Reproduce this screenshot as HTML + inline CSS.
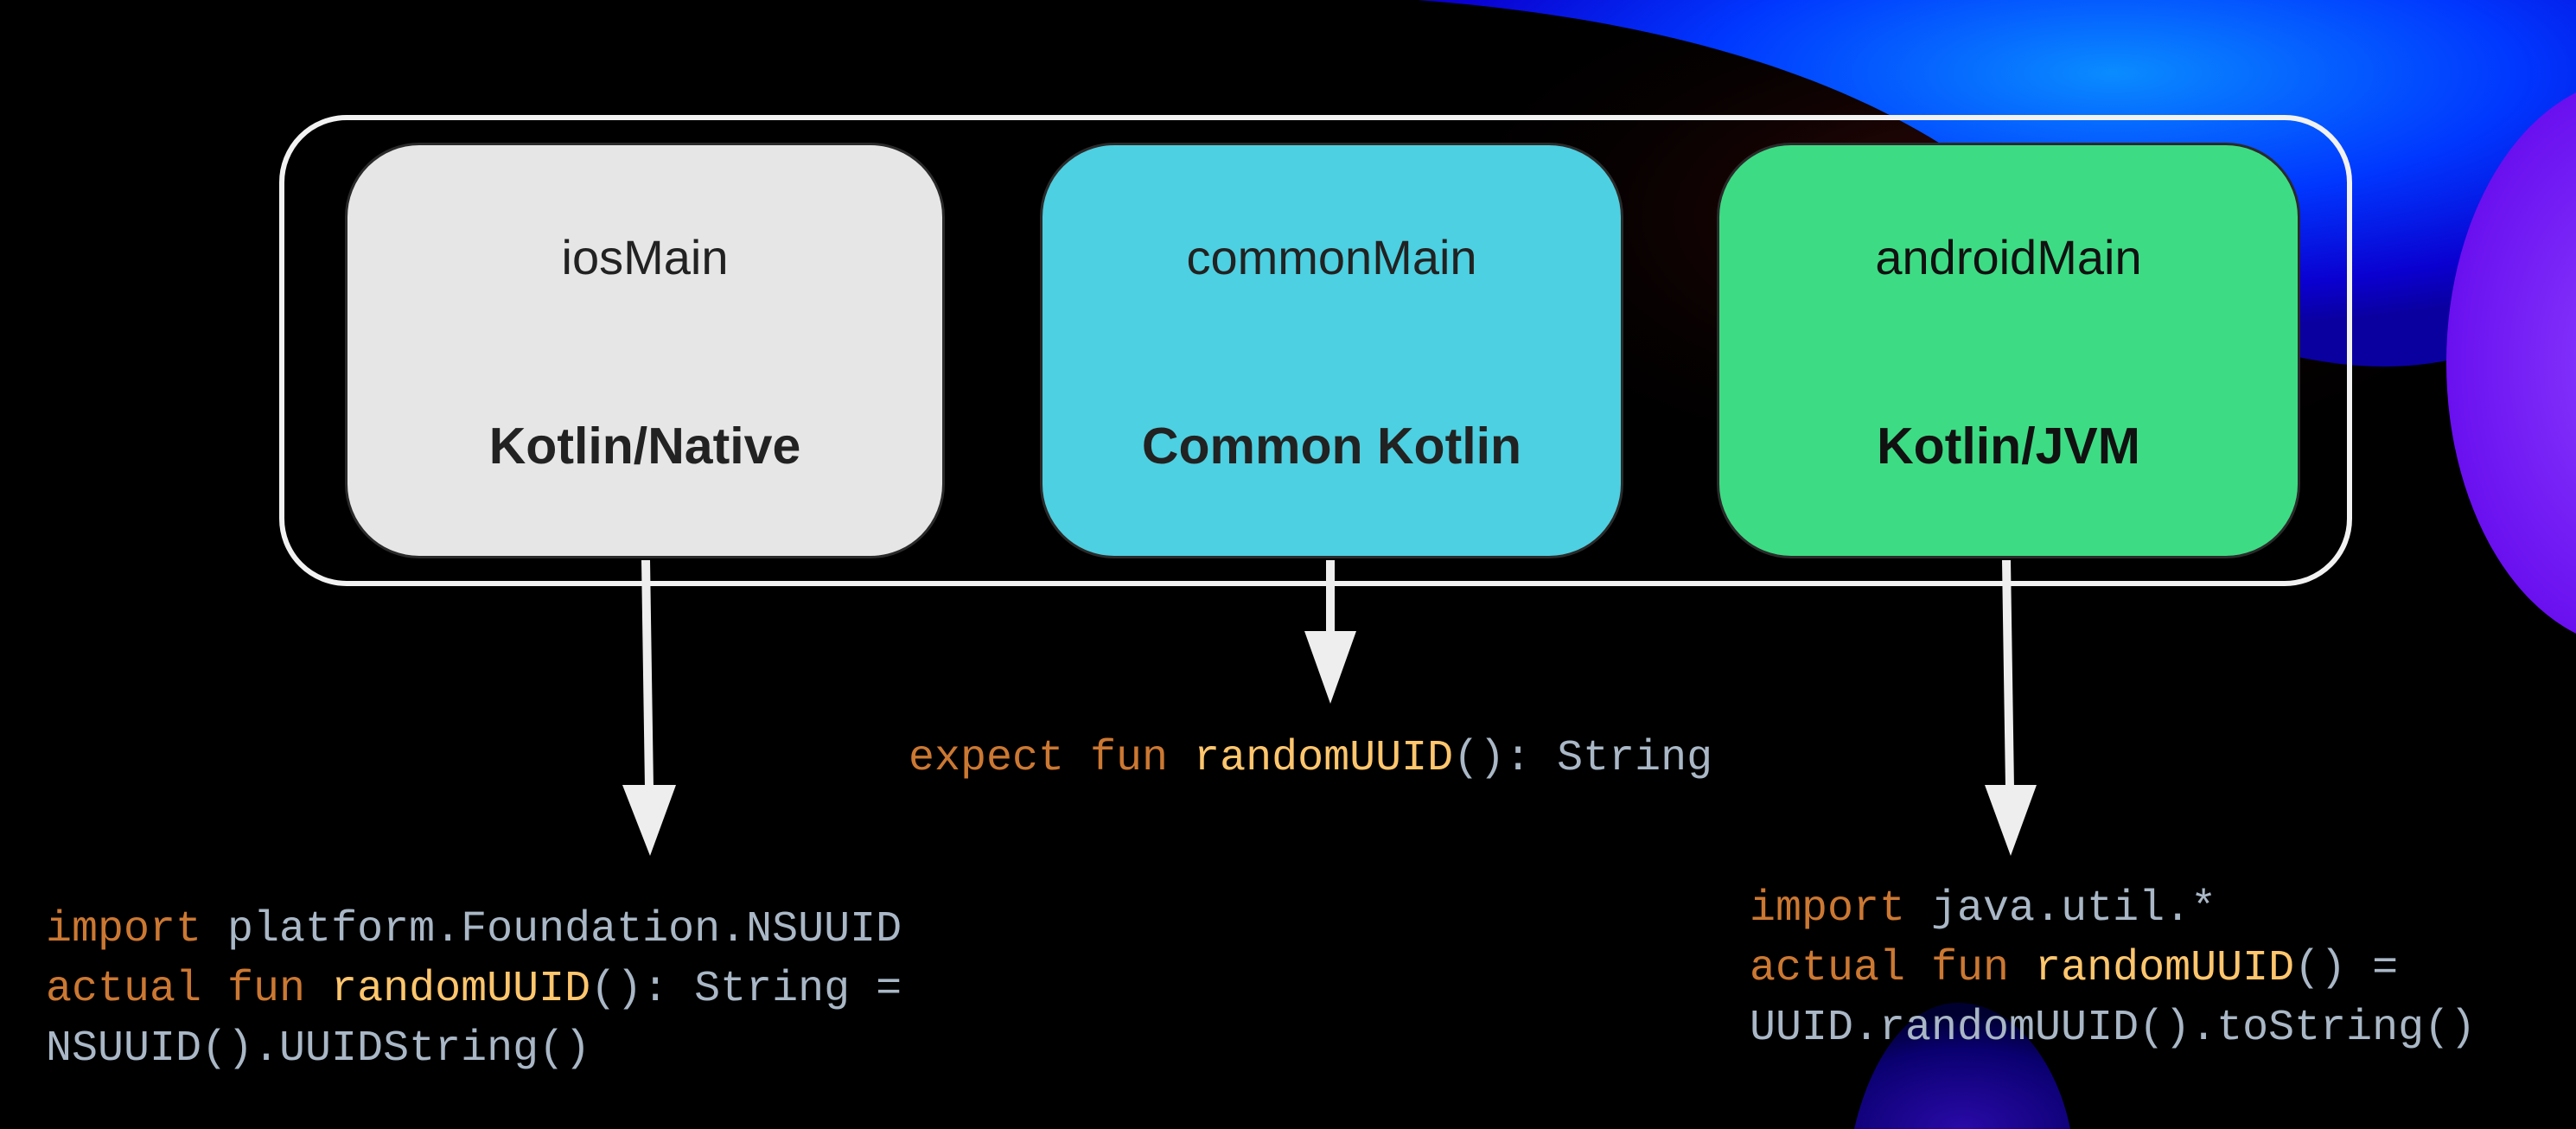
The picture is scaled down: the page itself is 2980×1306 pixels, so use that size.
<!DOCTYPE html>
<html><head><meta charset="utf-8"><style>
html,body{margin:0;padding:0;background:#000;}
body{width:2980px;height:1306px;position:relative;overflow:hidden;font-family:"Liberation Sans",sans-serif;}
.bg{position:absolute;left:0;top:0;}
.outer{position:absolute;left:323px;top:133px;width:2398px;height:545px;border:6px solid #f2f2f2;border-radius:78px;box-sizing:border-box;}
.box{position:absolute;top:165px;height:481px;border:3px solid #2a2a2a;border-radius:86px;box-sizing:border-box;text-align:center;color:#222;}
.box .t{position:absolute;left:0;right:0;top:97px;font-size:56px;}
.box .b{position:absolute;left:0;right:0;top:314px;font-size:59px;font-weight:bold;}
.code{position:absolute;font-family:"Liberation Mono",monospace;font-size:50px;line-height:69px;color:#a9b7c6;white-space:pre;}
.k{color:#cc7832}.f{color:#ffc66d}
</style></head><body>
<svg class="bg" width="2980" height="1306">
<defs>
<radialGradient id="g1" cx="0.6" cy="0.2" r="0.7"><stop offset="0" stop-color="#0a8cff"/><stop offset="0.5" stop-color="#0037ff"/><stop offset="0.85" stop-color="#0a00d0"/><stop offset="1" stop-color="#0a00a0"/></radialGradient>
<radialGradient id="g2" cx="0.5" cy="0.5" r="0.5"><stop offset="0" stop-color="#8a3cff"/><stop offset="1" stop-color="#6a10f0"/></radialGradient>
<radialGradient id="g3" cx="0.5" cy="1" r="0.9"><stop offset="0" stop-color="#2a0aa8"/><stop offset="0.7" stop-color="#0a0070"/><stop offset="1" stop-color="#000030"/></radialGradient>
<radialGradient id="g4" cx="0.5" cy="0.5" r="0.5"><stop offset="0" stop-color="#3a0808"/><stop offset="1" stop-color="#000" stop-opacity="0"/></radialGradient>
</defs>
<ellipse cx="2300" cy="250" rx="700" ry="330" fill="url(#g4)"/>
<path d="M1640 0 C1900 20 2150 80 2320 220 C2450 330 2550 400 2700 420 C2850 440 2940 380 2980 340 L2980 0 Z" fill="url(#g1)"/>
<ellipse cx="3050" cy="420" rx="220" ry="330" fill="url(#g2)"/>
<path d="M2145 1306 C2165 1220 2210 1160 2265 1160 C2330 1160 2380 1230 2395 1306 Z" fill="url(#g3)"/>
</svg>
<div class="outer"></div>
<div class="box" style="left:399px;width:694px;background:#e6e6e6;"><div class="t">iosMain</div><div class="b">Kotlin/Native</div></div>
<div class="box" style="left:1203px;width:675px;background:#4dd0e1;"><div class="t">commonMain</div><div class="b">Common Kotlin</div></div>
<div class="box" style="left:1986px;width:675px;background:#3ddc84;color:#111;"><div class="t">androidMain</div><div class="b">Kotlin/JVM</div></div>
<svg class="bg" width="2980" height="1306">
<g fill="#eeeeee" stroke="none">
<polygon points="742,648 752,648 756,912 746,912"/>
<polygon points="720,908 782,908 752,990"/>
<rect x="1534" y="648" width="10" height="84"/>
<polygon points="1509,730 1569,730 1539,814"/>
<polygon points="2316,648 2326,648 2330,912 2320,912"/>
<polygon points="2296,908 2356,908 2326,990"/>
</g>
</svg>
<div class="code" style="left:1051px;top:843px;"><span class="k">expect fun </span><span class="f">randomUUID</span>(): String</div>
<div class="code" style="left:53px;top:1041px;"><span class="k">import </span>platform.Foundation.NSUUID
<span class="k">actual fun </span><span class="f">randomUUID</span>(): String =
NSUUID().UUIDString()</div>
<div class="code" style="left:2024px;top:1017px;"><span class="k">import </span>java.util.*
<span class="k">actual fun </span><span class="f">randomUUID</span>() =
UUID.randomUUID().toString()</div>
</body></html>
